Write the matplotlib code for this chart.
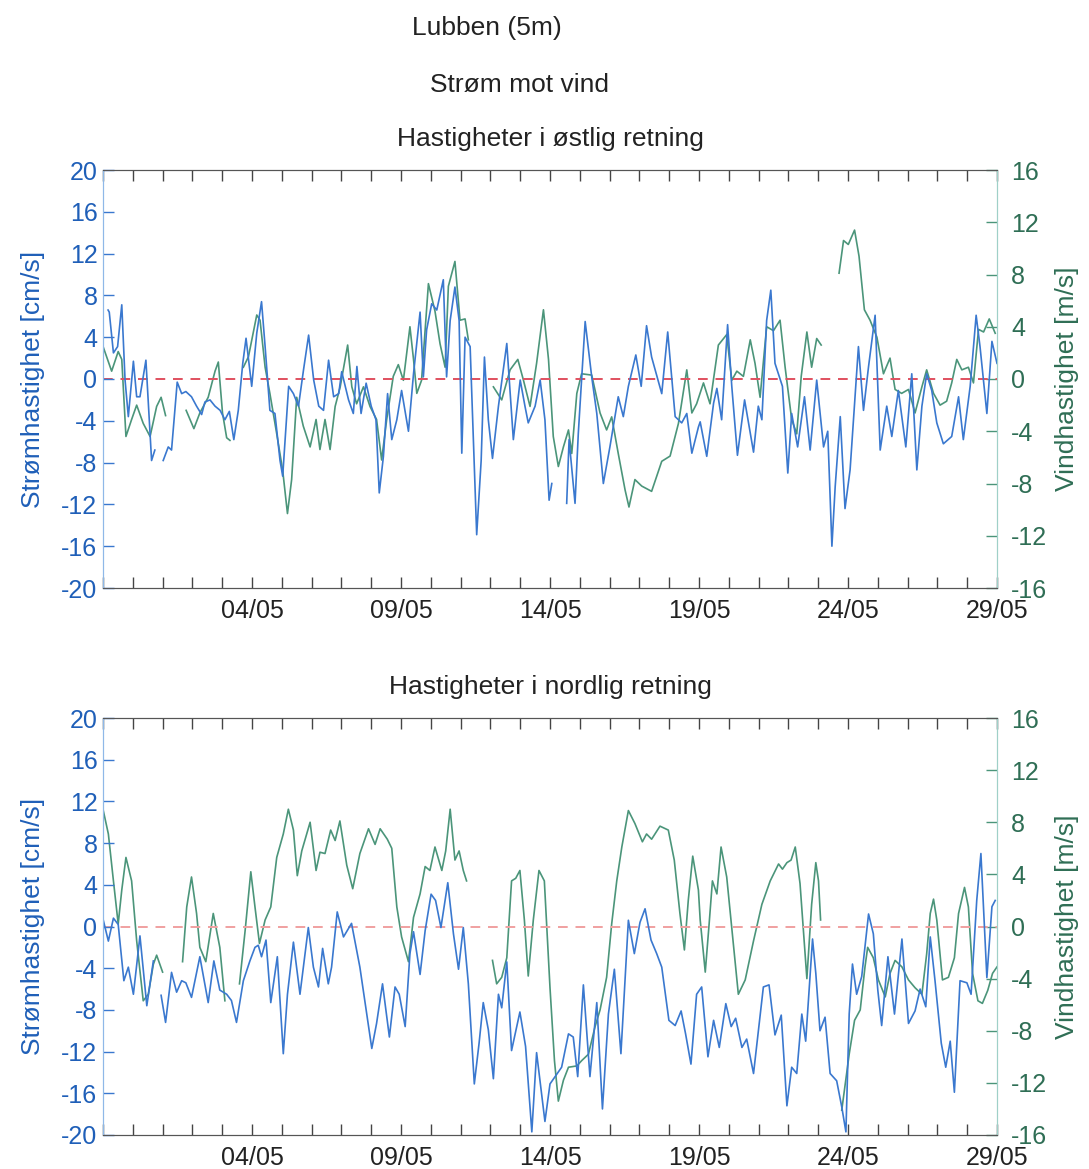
import numpy as np
import matplotlib
matplotlib.use("Agg")
import matplotlib.pyplot as plt
import matplotlib.dates as mdates
import datetime as dt

plt.rcParams['font.family'] = ['Liberation Sans', 'DejaVu Sans']
plt.rcParams['axes.unicode_minus'] = False

nan = np.nan
START = dt.datetime(2011, 4, 29)

# ---------------- Data (days since 29/04) ----------------
# Top panel: east component
east_cur_t = [0.17, 0.21, 0.35, 0.49, 0.63, 0.74, 0.85, 1.02, 1.13, 1.24, 1.44, 1.63, 1.74, 1.88, 2.02, 2.19, 2.30,
              2.49, 2.64, 2.78, 2.97, 3.14, 3.31, 3.42, 3.59, 3.76, 3.93, 4.09, 4.24, 4.39, 4.54, 4.69, 4.80,
              4.99, 5.16, 5.32, 5.44, 5.60, 5.77, 5.94, 6.03, 6.23, 6.39, 6.56, 6.73, 6.90, 7.07, 7.24, 7.40,
              7.57, 7.74, 7.91, 8.01, 8.24, 8.40, 8.52, 8.66, 8.83, 9.00, 9.16, 9.27, 9.41, 9.55, 9.69, 9.86,
              10.02, 10.25, 10.42, 10.64, 10.75, 10.86, 11.03, 11.20, 11.42, 11.53, 11.65, 11.81, 11.95, 12.04,
              12.15, 12.32, 12.54, 12.69, 12.80, 12.93, 13.07, 13.27, 13.55, 13.77, 14.00, 14.16, 14.27, 14.50,
              14.67, 14.83, 14.97, 15.06, 15.30, 15.56, 15.64, 15.84, 15.95, 16.18, 16.40, 16.57, 16.79, 17.01,
              17.18, 17.29, 17.46, 17.63, 17.88, 18.06, 18.24, 18.41, 18.75, 18.95, 19.20, 19.42, 19.59, 19.76,
              19.98, 20.04, 20.26, 20.49, 20.60, 20.76, 20.96, 21.10, 21.29, 21.53, 21.83, 21.99, 22.11, 22.27,
              22.41, 22.55, 22.80, 22.98, 23.11, 23.31, 23.54, 23.73, 23.95, 24.18, 24.32, 24.46, 24.57, 24.74,
              24.90, 25.07, 25.35, 25.52, 25.69, 25.91, 26.08, 26.30, 26.47, 26.69, 26.94, 27.14, 27.31, 27.48,
              27.64, 27.81, 27.98, 28.20, 28.48, 28.71, 28.87, 29.10, 29.30, 29.43, 29.66, 29.83, 30.0]
east_cur_v = [6.6, 6.4, 2.5, 3.1, 7.1, -0.1, -3.6, 1.7, -1.7, -1.7, 1.8, -7.8, -6.8, nan, -7.8, -6.5, -6.8,
              -0.3, -1.4, -1.2, -1.7, -2.6, -3.4, -2.2, -2.0, -2.6, -3.0, -3.9, -3.1, -5.8, -3.0, 1.5, 3.9,
              -0.7, 4.4, 7.4, 3.1, -3.0, -3.3, -7.8, -9.3, -0.7, -1.4, -2.6, 0.9, 4.2, -0.1, -2.6, -3.0,
              1.8, -1.7, -1.4, 0.7, -2.0, -3.3, 1.2, -3.3, -0.4, -2.6, -3.9, -10.9, -7.4, -1.4, -5.8, -3.9,
              -1.1, -5.0, 0.5, 6.4, 0.2, 4.7, 7.2, 6.6, 9.5, 0.2, 5.6, 8.8, 5.6, -7.1,
              4.0, 3.1, -14.9, -7.8, 2.1, -3.9, -7.6, -2.6, 3.4, -5.8, -0.1, -2.6, -4.2, -2.6,
              -0.1, -3.9, -11.6, -10.0, nan, -11.9, -5.8, -11.9, -5.2, 5.5, 0.2, -3.3, -10.0, -6.5,
              -3.6, -1.7, -3.6, -0.7, 2.3, -0.7, 5.1, 2.1, -1.4, 4.5, -3.6, -4.2, -3.3, -7.1,
              -4.6, -4.1, -7.4, -2.3, -0.9, -3.9, 5.2, -0.7, -7.3, -2.0, -7.0, -2.6, -3.9, 5.6,
              8.5, 1.5, -0.7, -9.0, -3.3, -6.5, -1.7, -6.8, -0.1, -6.5, -5.0, -16.0, -10.3, -3.6,
              -12.4, -8.7, 3.1, -3.0, 1.2, 6.1, -6.8, -2.6, -5.5, -1.1, -6.5, 0.5, -8.7, -2.6,
              0.5, -1.1, -4.2, -6.2, -5.5, -1.7, -5.8, -0.7, 6.1, 3.1, -3.3, 3.6, 1.5]

east_wind_t = [0.0, 0.29, 0.51, 0.63, 0.77, 0.96, 1.13, 1.35, 1.58, 1.80, 1.95, 2.10, 2.45, 2.79, 3.05, 3.25,
               3.53, 3.76, 3.87, 4.01, 4.15, 4.26, 4.50, 4.71, 4.88, 5.16, 5.27, 5.44, 5.60, 5.83, 6.03, 6.19,
               6.33, 6.50, 6.72, 6.95, 7.15, 7.28, 7.45, 7.62, 7.79, 7.96, 8.21, 8.35, 8.51, 8.74, 8.96, 9.18,
               9.35, 9.52, 9.74, 9.91, 10.08, 10.30, 10.42, 10.53, 10.69, 10.92, 11.14, 11.31, 11.48, 11.59,
               11.81, 11.98, 12.15, 12.26, 12.70, 13.10, 13.38, 13.66, 13.92, 14.11, 14.33, 14.55, 14.78, 14.95,
               15.11, 15.28, 15.45, 15.62, 15.73, 15.90, 16.06, 16.40, 16.68, 16.90, 17.07, 17.29, 17.52, 17.65,
               17.85, 18.08, 18.41, 18.75, 19.03, 19.31, 19.59, 19.76, 19.92, 20.15, 20.37, 20.65, 20.93, 21.10,
               21.27, 21.49, 21.72, 21.88, 22.05, 22.27, 22.50, 22.72, 22.89, 23.11, 23.28, 23.43, 23.62, 23.78,
               23.95, 24.10, 24.40, 24.70, 24.85, 25.01, 25.22, 25.37, 25.55, 25.74, 25.97, 26.19, 26.41, 26.58,
               26.80, 27.03, 27.25, 27.48, 27.64, 27.87, 28.09, 28.31, 28.48, 28.65, 28.82, 29.04, 29.21, 29.38,
               29.55, 29.74, 29.94]
east_wind_v = [2.5, 0.6, 2.1, 1.5, -4.4, -3.1, -2.0, -3.4, -4.4, -2.1, -1.4, -2.8, nan, -2.4, -3.8, -2.6,
               -1.4, 0.6, 1.3, -2.6, -4.5, -4.7, nan, 0.9, 1.7, 4.9, 4.5, 0.9, -1.1, -4.2, -7.0, -10.3,
               -7.7, -1.4, -3.6, -5.2, -3.1, -5.4, -3.1, -5.4, -2.1, -0.6, 2.6, -0.6, -1.9, -0.6, -2.1, -3.1,
               -6.2, -3.1, 0.2, 1.1, -0.1, 4.0, 1.5, -1.1, -0.1, 7.3, 5.2, 2.7, 0.9, 7.1,
               9.0, 4.5, 4.6, 3.0, nan, -0.6, -1.6, 0.7, 1.5, -0.1, -2.1, 1.2, 5.3, 1.5,
               -4.4, -6.7, -5.2, -3.9, -5.7, -1.1, 0.4, 0.3, -2.6, -3.9, -2.9, -5.7, -8.5, -9.8,
               -7.7, -8.2, -8.6, -6.3, -5.9, -3.4, 0.7, -2.6, -1.9, -0.3, -1.9, 2.6, 3.4, -0.1,
               0.6, 0.2, 3.0, 1.2, -1.4, 4.0, 3.7, 4.5, 0.9, -3.1, -4.2, 0.2, 3.6, 0.9,
               3.1, 2.6, nan, 8.1, 10.6, 10.3, 11.4, 9.4, 5.3, 4.5, 3.2, 0.4, 1.6, -0.8,
               -1.1, -0.8, -2.6, -0.6, 0.7, -1.1, -2.0, -1.7, -0.3, 1.5, 0.7, 0.9, -0.3, 3.8,
               3.6, 4.6, 3.5]

# Bottom panel: north component
north_cur_t = [0.01, 0.18, 0.35, 0.51, 0.70, 0.85, 1.02, 1.24, 1.47, 1.69, 1.82, 1.95, 2.10, 2.30, 2.47, 2.64,
               2.78, 2.97, 3.25, 3.53, 3.72, 3.92, 4.15, 4.31, 4.48, 4.71, 4.93, 5.10, 5.21, 5.32, 5.47, 5.63,
               5.85, 6.05, 6.19, 6.39, 6.61, 6.89, 7.06, 7.23, 7.37, 7.56, 7.67, 7.86, 8.07, 8.34, 8.62, 8.85,
               9.02, 9.18, 9.38, 9.61, 9.80, 9.94, 10.14, 10.30, 10.42, 10.64, 10.81, 11.01, 11.16, 11.34,
               11.57, 11.76, 11.93, 12.09, 12.26, 12.46, 12.62, 12.76, 12.93, 13.10, 13.27, 13.38, 13.55, 13.71,
               13.99, 14.18, 14.39, 14.55, 14.83, 15.00, 15.39, 15.62, 15.78, 15.93, 16.12, 16.34, 16.57, 16.76,
               16.96, 17.16, 17.38, 17.63, 17.83, 18.02, 18.19, 18.39, 18.58, 18.75, 18.99, 19.20, 19.40, 19.55,
               19.73, 19.92, 20.09, 20.30, 20.49, 20.68, 20.90, 21.08, 21.23, 21.44, 21.60, 21.83, 22.16, 22.35,
               22.55, 22.76, 22.95, 23.11, 23.28, 23.45, 23.58, 23.81, 23.92, 24.06, 24.23, 24.40, 24.62, 24.79,
               24.93, 25.04, 25.15, 25.29, 25.46, 25.69, 25.85, 26.00, 26.13, 26.34, 26.56, 26.81, 27.03, 27.25,
               27.42, 27.61, 27.76, 27.92, 28.13, 28.28, 28.43, 28.57, 28.76, 28.99, 29.13, 29.32, 29.46, 29.66,
               29.83, 29.94]
north_cur_v = [0.6, -1.4, 0.8, 0.2, -5.2, -3.9, -6.5, -0.9, -7.6, -3.3, nan, -6.6, -9.2, -4.4, -6.3, -5.2,
               -5.4, -6.8, -2.9, -7.3, -3.3, -6.1, -6.5, -7.1, -9.2, -5.2, -3.3, -2.0, -1.8, -2.9, -1.3, -7.3,
               -2.9, -12.2, -6.5, -1.5, -6.5, -0.1, -3.9, -5.8, -2.1, -5.5, -3.9, 1.4, -1.0, 0.3, -3.9, -8.4,
               -11.7, -9.3, -5.5, -10.6, -5.8, -6.5, -9.6, -2.6, -0.5, -4.6, -0.4, 3.1, 2.5, -0.1,
               4.2, -0.7, -4.1, -0.1, -5.5, -15.1, -11.2, -7.3, -9.9, -14.6, -6.5, -7.8, -3.4, -11.9,
               -8.2, -11.5, -19.7, -12.1, -18.7, -15.1, -13.5, -10.3, -10.6, -14.4, -5.6, -14.4, -7.3, -17.5,
               -8.4, -4.1, -12.2, 0.6, -2.6, 0.4, 1.7, -1.3, -2.6, -3.9, -9.0, -9.5, -8.1, -10.3,
               -13.2, -6.5, -5.8, -12.5, -9.0, -11.6, -7.4, -9.6, -8.8, -11.6, -10.8, -14.1, -5.8, -5.6,
               -10.4, -8.5, -17.2, -13.5, -14.1, -8.4, -11.0, -1.2, -4.5, -10.0, -8.7, -14.1, -14.8, -17.3,
               -19.7, -8.4, -3.6, -6.5, -4.8, 1.2, -0.7, -6.1, -9.5, -2.9, -8.4, -1.2, -9.3, -8.1,
               -6.0, -7.7, -1.0, -5.2, -11.2, -13.5, -11.0, -15.9, -5.2, -5.4, -6.5, 2.5, 7.0, -4.9,
               1.9, 2.5]

north_wind_t = [0.0, 0.18, 0.35, 0.51, 0.63, 0.77, 0.96, 1.13, 1.35, 1.52, 1.69, 1.80, 2.00, 2.35, 2.67, 2.81,
                2.97, 3.14, 3.25, 3.45, 3.70, 3.92, 4.09, 4.35, 4.58, 4.77, 4.96, 5.10, 5.25, 5.44, 5.63, 5.83,
                6.05, 6.22, 6.39, 6.52, 6.67, 6.95, 7.15, 7.28, 7.45, 7.64, 7.79, 7.95, 8.18, 8.38, 8.62, 8.91,
                9.13, 9.30, 9.54, 9.69, 9.86, 10.02, 10.25, 10.42, 10.64, 10.81, 10.97, 11.14, 11.37, 11.50,
                11.65, 11.81, 11.95, 12.09, 12.20, 12.60, 13.07, 13.21, 13.38, 13.55, 13.71, 13.85, 13.99, 14.14,
                14.27, 14.44, 14.63, 14.81, 15.00, 15.15, 15.28, 15.45, 15.62, 15.90, 16.06, 16.29, 16.51, 16.68,
                16.90, 17.07, 17.24, 17.41, 17.63, 17.85, 18.10, 18.24, 18.41, 18.69, 18.97, 19.17, 19.36, 19.51,
                19.64, 19.79, 19.98, 20.04, 20.21, 20.34, 20.45, 20.60, 20.74, 20.93, 21.10, 21.32, 21.55, 21.83,
                22.11, 22.39, 22.67, 22.80, 22.95, 23.09, 23.23, 23.39, 23.62, 23.78, 23.92, 24.01, 24.08, 24.40,
                24.79, 25.04, 25.22, 25.41, 25.57, 25.66, 25.85, 26.02, 26.25, 26.41, 26.58, 26.81, 27.03, 27.25,
                27.48, 27.64, 27.76, 27.87, 27.98, 28.17, 28.37, 28.57, 28.71, 28.91, 29.04, 29.18, 29.36, 29.51,
                29.69, 29.85, 30.0]
north_wind_v = [9.0, 7.1, 3.5, 0.2, 2.8, 5.3, 3.5, -1.1, -5.7, -5.2, -2.9, -2.2, -3.5, nan, -2.7, 1.5,
                3.8, 1.0, -1.6, -2.7, 1.0, -1.6, -5.7, nan, -4.4, -0.3, 4.2, 1.5, -1.3, 0.5, 1.5, 5.3,
                7.1, 9.0, 7.4, 3.9, 5.8, 8.0, 4.3, 5.7, 5.6, 7.4, 6.6, 8.1, 4.7, 2.9, 5.6, 7.5,
                6.3, 7.5, 6.7, 6.0, 1.5, -0.8, -2.7, 0.7, 2.5, 4.6, 4.3, 6.1, 4.3, 5.8,
                9.0, 5.1, 5.8, 4.3, 3.5, nan, -2.6, -4.4, -3.9, -2.4, 3.5, 3.7, 4.3, 0.5,
                -3.8, 0.5, 4.3, 3.5, -4.7, -10.3, -13.4, -11.8, -10.8, -10.7, -10.3, -9.8, -7.7, -6.4,
                -3.9, 0.2, 3.5, 6.1, 8.9, 7.9, 6.5, 7.1, 6.7, 7.7, 7.4, 5.1, 1.0, -1.8,
                2.0, 5.4, 2.8, 0.5, -3.5, 0.2, 3.5, 2.5, 6.1, 3.8, -0.1, -5.2, -4.1, -1.1,
                1.7, 3.5, 4.8, 4.4, 4.9, 5.1, 6.1, 3.3, -4.0, 1.7, 4.9, 3.5, 0.5, nan,
                -14.1, -9.8, -7.2, -6.4, -3.1, -1.6, -2.4, -4.1, -5.4, -3.6, -2.6, -3.1, -4.1, -4.7,
                -5.2, -2.1, 1.0, 2.1, 0.5, -4.1, -3.9, -2.4, 1.0, 3.0, 1.5, -3.6, -5.7, -5.9,
                -4.9, -3.6, -3.1]

x_tick_labels = ['04/05', '09/05', '14/05', '19/05', '24/05', '29/05']

fig_titles = ['Lubben (5m)', 'Strøm mot vind']
panel_titles = ['Hastigheter i østlig retning', 'Hastigheter i nordlig retning']
ylabel_left = 'Strømhastighet [cm/s]'
ylabel_right = 'Vindhastighet [m/s]'

# ---------------- Styling ----------------
BLUE = '#3a78cf'
BLUE_TXT = '#1f5fb8'
GREEN = '#4b957a'
GREEN_TXT = '#2f6e55'
TXT = '#222222'

def to_dates(days):
    base = mdates.date2num(START)
    return base + np.asarray(days, dtype=float)

fig = plt.figure(figsize=(10.89, 11.69), dpi=100)
fig.patch.set_facecolor('white')

fig.text(487 / 1089, 1 - 28 / 1169, fig_titles[0], ha='center', va='center', fontsize=19, color=TXT)
fig.text(520 / 1089, 1 - 85 / 1169, fig_titles[1], ha='center', va='center', fontsize=19, color=TXT)

positions = [[103 / 1089, 1 - 588 / 1169, 894 / 1089, 418 / 1169],
             [103 / 1089, 1 - 1135 / 1169, 894 / 1089, 417 / 1169]]
series = [(east_cur_t, east_cur_v, east_wind_t, east_wind_v, '#e0505f'),
          (north_cur_t, north_cur_v, north_wind_t, north_wind_v, '#f0a0a0')]

xmin = mdates.date2num(START)
xmax = mdates.date2num(START + dt.timedelta(days=30))
major_days = [5, 10, 15, 20, 25, 30]

for i, (pos, (ct, cv, wt, wv, zcol)) in enumerate(zip(positions, series)):
    ax = fig.add_axes(pos)
    ax2 = ax.twinx()
    ax.set_zorder(ax2.get_zorder() + 1)
    ax.patch.set_visible(False)

    ax2.plot(to_dates(wt), wv, color=GREEN, lw=1.2, solid_joinstyle='round')
    ax.plot(to_dates(ct), cv, color=BLUE, lw=1.2, solid_joinstyle='round')
    ax.axhline(0, color=zcol, lw=1.4, ls=(0, (5, 4)), zorder=0.5)

    ax.set_xlim(xmin, xmax)
    ax.set_ylim(-20, 20)
    ax2.set_ylim(-16, 16)
    ax.set_yticks(np.arange(-20, 21, 4))
    ax2.set_yticks(np.arange(-16, 17, 4))

    ax.set_xticks(to_dates(major_days))
    ax.set_xticklabels(x_tick_labels)
    ax.set_xticks(to_dates(np.arange(0, 31)), minor=True)

    ax.tick_params(axis='x', which='both', direction='in', top=True, length=8, width=1,
                   color='#444444', labelsize=18, labelcolor=TXT, pad=8)
    ax.tick_params(axis='y', direction='in', length=8, width=1, color=BLUE,
                   labelsize=18, labelcolor=BLUE_TXT, pad=4)
    ax2.tick_params(axis='y', direction='in', length=8, width=1, color=GREEN,
                    labelsize=18, labelcolor=GREEN_TXT, pad=10)

    for a in (ax, ax2):
        a.spines['left'].set_color('#8fb8e8')
        a.spines['right'].set_color('#9fd0c8')
        a.spines['top'].set_color('#555555')
        a.spines['bottom'].set_color('#555555')

    ax.set_ylabel(ylabel_left, fontsize=19, color=BLUE_TXT, labelpad=12)
    ax2.set_ylabel(ylabel_right, fontsize=19, color=GREEN_TXT, labelpad=6)
    ax.set_title(panel_titles[i], fontsize=19, color=TXT, pad=17)

fig.savefig('out.png', dpi=100, facecolor='white')
